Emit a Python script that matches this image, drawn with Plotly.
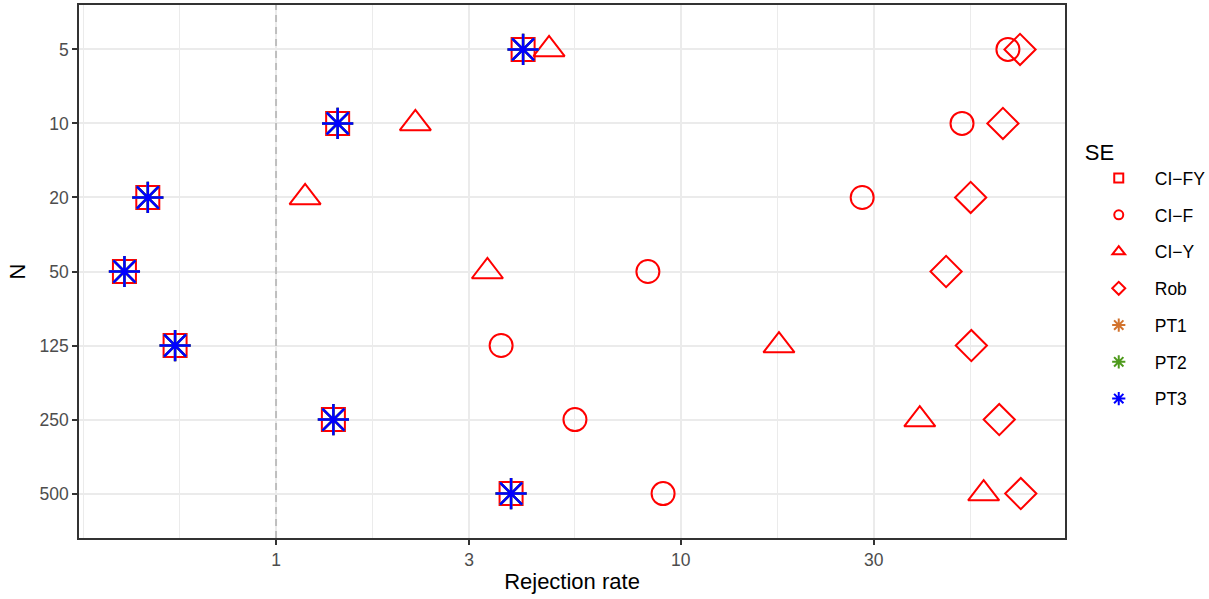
import numpy as np
import plotly.graph_objects as go

# Sample sizes (top to bottom) and rejection rates (%) per standard-error method
n_levels = ["5", "10", "20", "50", "125", "250", "500"]
ci_fy = [4.08, 1.42, 0.482, 0.422, 0.563, 1.386, 3.81]
ci_f = [64.4, 49.6, 28.1, 8.30, 3.60, 5.48, 9.05]
ci_y = [4.73, 2.21, 1.18, 3.33, 17.5, 39.0, 56.1]
rob = [69.0, 62.6, 52.1, 45.3, 52.3, 61.3, 69.3]
pt1 = [4.08, 1.42, 0.482, 0.422, 0.563, 1.386, 3.81]
pt2 = [4.08, 1.42, 0.482, 0.422, 0.563, 1.386, 3.81]
pt3 = [4.08, 1.42, 0.482, 0.422, 0.563, 1.386, 3.81]

x_breaks = [1, 3, 10, 30]
x_labels = ["1", "3", "10", "30"]
reference_rate = 1

FONT = "Liberation Sans, Arial, sans-serif"
RED = "#FF0000"

series = [
    # name, values, symbol, plot size, legend size, colour, line width
    ("CI\u2212FY", ci_fy, "square-open", 23, 9, RED, 2),
    ("CI\u2212F", ci_f, "circle-open", 23, 9, RED, 2),
    ("CI\u2212Y", ci_y, "triangle-up-open", 27, 11, RED, 2),
    ("Rob", rob, "diamond-open", 24, 10, RED, 2),
    ("PT1", pt1, "asterisk-open", 26, 11, "#D2732E", 2.5),
    ("PT2", pt2, "asterisk-open", 26, 11, "#4E9A1C", 2.5),
    ("PT3", pt3, "asterisk-open", 26, 11, "#0000FF", 2.5),
]

fig = go.Figure()

# dashed reference line at a rejection rate of 1, on a hidden 0-1 overlay axis
fig.add_trace(go.Scatter(
    x=[reference_rate, reference_rate], y=[0, 1], yaxis="y2", mode="lines",
    line=dict(color="#BEBEBE", width=2, dash="7px,5px"),
    showlegend=False, hoverinfo="skip",
))

for name, vals, sym, size, lsize, col, lw in series:
    fig.add_trace(go.Scatter(
        x=vals, y=n_levels, mode="markers", name=name, showlegend=False,
        marker=dict(symbol=sym, size=size, color=col, line=dict(color=col, width=lw)),
        hoverinfo="x+y+name",
    ))
# compact legend keys
for name, vals, sym, size, lsize, col, lw in series:
    fig.add_trace(go.Scatter(
        x=[None], y=[None], mode="markers", name=name, legendgroup=name,
        marker=dict(symbol=sym, size=lsize, color=col, line=dict(color=col, width=2)),
    ))

# minor grid at log-space midpoints of the major breaks (extended one step each way)
lb = np.log10(x_breaks)
step = lb[1] - lb[0]
ext = np.concatenate([[lb[0] - step], lb, [lb[-1] + step]])
minor_vals = list(10 ** ((ext[:-1] + ext[1:]) / 2)) + [10 ** ext[0]]

x_lo, x_hi = -0.487, 1.950

fig.update_layout(
    width=1209, height=599,
    margin=dict(l=79, r=144, t=5, b=61, autoexpand=False),
    paper_bgcolor="white", plot_bgcolor="white",
    font=dict(family=FONT, color="#000000"),
    xaxis=dict(
        type="log", range=[x_lo, x_hi],
        tickmode="array", tickvals=x_breaks, ticktext=x_labels,
        ticks="outside", ticklen=5, tickwidth=1.5, tickcolor="#333333",
        tickfont=dict(size=17.5, color="#4D4D4D", family=FONT),
        showgrid=True, gridcolor="#EBEBEB", gridwidth=2,
        minor=dict(tickmode="array", tickvals=minor_vals, showgrid=True,
                   gridcolor="#EBEBEB", gridwidth=1, ticks=""),
        showline=True, mirror=True, linecolor="#333333", linewidth=1.5,
        zeroline=False,
        title=dict(text="Rejection rate", font=dict(size=22, color="#000000", family=FONT), standoff=5),
    ),
    yaxis=dict(
        type="category", categoryorder="array", categoryarray=n_levels,
        range=[6.6, -0.6],
        ticks="outside", ticklen=5, tickwidth=1.5, tickcolor="#333333",
        tickfont=dict(size=17.5, color="#4D4D4D", family=FONT),
        showgrid=True, gridcolor="#EBEBEB", gridwidth=2,
        showline=True, mirror=True, linecolor="#333333", linewidth=1.5,
        zeroline=False,
        title=dict(text="N", font=dict(size=22, color="#000000", family=FONT), standoff=8),
    ),
    yaxis2=dict(overlaying="y", range=[0, 1], visible=False, fixedrange=True),
    legend=dict(
        title=dict(text="SE", font=dict(size=22, color="#000000", family=FONT)),
        font=dict(size=17.5, color="#000000", family=FONT),
        x=1.018, xanchor="left", y=0.7625, yanchor="top",
        tracegroupgap=11, itemsizing="trace", itemwidth=62,
        bgcolor="rgba(0,0,0,0)",
    ),
)

fig.write_html("out.html")
